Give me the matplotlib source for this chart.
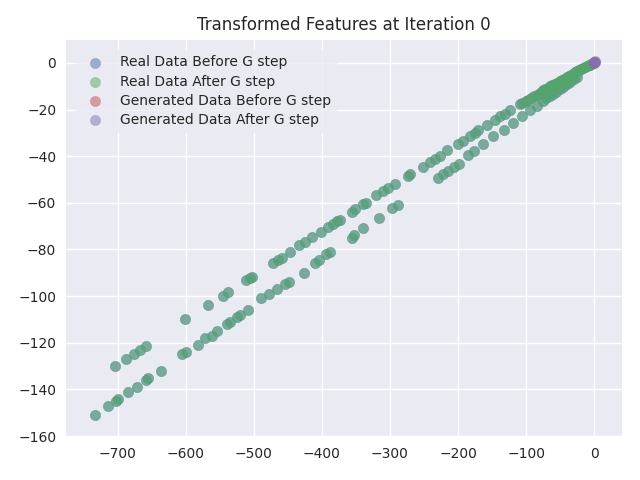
import matplotlib
matplotlib.use("Agg")
import matplotlib.pyplot as plt
import numpy as np

plt.style.use("seaborn-v0_8")
plt.rcParams["font.family"] = ["DejaVu Sans"]

title = "Transformed Features at Iteration 0"
labels = ["Real Data Before G step", "Real Data After G step",
          "Generated Data Before G step", "Generated Data After G step"]

# Real data (lower band)
real_lower_x = [-734, -714, -703, -700, -685, -672, -659, -655, -636, -605, -599, -582,
                -572, -562, -554, -539, -535, -525, -520, -508, -489, -477, -466, -454,
                -448, -427, -410, -404, -394, -388, -356, -353, -339, -316, -297, -288,
                -229, -222, -214, -206, -199, -185, -177, -163, -148, -133, -119, -106,
                -94, -84, -75, -70, -65, -60, -56, -50, -45, -40, -35, -30, -25]
real_lower_y = [-151, -147, -145, -144, -141, -139, -136, -135, -132, -125, -124, -121,
                -118, -117, -115, -112, -111, -109, -108, -106, -101, -99, -97, -95,
                -94, -90, -86, -84.5, -82, -81, -75, -74, -71, -66.5, -62.4, -61,
                -49.2, -47.8, -46.2, -44.8, -43.2, -39.5, -38, -35, -31.4, -28.6, -25.7, -22.9,
                -20.1, -18.6, -16.5, -15.2, -14.2, -13.2, -12.4, -11.4, -10.4, -9.2, -8.2, -7.0, -5.9]

# Real data (upper band)
real_upper_x = [-704, -688, -676, -667, -658, -601, -567, -545, -538, -511, -506, -503,
                -472, -464, -459, -447, -433, -425, -414, -402, -391, -383, -378, -374,
                -356, -351, -339, -335, -321, -310, -303, -292, -273, -270, -252, -241,
                -234, -227, -216, -200, -192, -182, -175, -170, -158, -146, -138, -131,
                -124, -109, -106, -100, -97, -92, -88, -84, -80, -77, -75, -72, -68, -65,
                -62, -58, -55, -52, -50, -47, -44, -40, -37, -34, -31, -28, -25, -22,
                -19, -16, -13, -10, -8, -6, -4, -2]
real_upper_y = [-130, -127, -125, -123, -121.3, -110, -104, -100, -98.3, -93.3, -92.3, -92,
                -85.8, -84.5, -83.5, -81.2, -78, -76.7, -74.8, -72.7, -70.5, -69, -68, -67.3,
                -64, -62.7, -60.6, -60, -56.8, -54.8, -53.7, -51.8, -48.5, -47.8, -44.5, -42.3,
                -41.2, -40.1, -37.5, -34.6, -33.3, -31.2, -30.2, -28.6, -26.5, -24.3, -22.9, -21.8,
                -20.3, -17.8, -17.2, -16.4, -15.8, -15.0, -14.3, -13.7, -12.9, -12.3, -11.8, -11.3,
                -10.6, -10.1, -9.6, -9.0, -8.5, -8.0, -7.7, -7.2, -6.8, -6.1, -5.6, -5.1, -4.6,
                -4.1, -3.6, -3.2, -2.7, -2.2, -1.8, -1.4, -1.1, -0.8, -0.5, -0.2]

real_x = real_lower_x + real_upper_x
real_y = real_lower_y + real_upper_y

gen_before_x = [0.0, 0.5, 1.0]
gen_before_y = [0.0, 0.3, 0.5]
gen_after_x = [0.0, 0.4, 0.8, 1.2]
gen_after_y = [0.0, 0.2, 0.4, 0.6]

xlim = (-776, 41)
ylim = (-160.4, 9.8)

fig, ax = plt.subplots(figsize=(6.4, 4.8), dpi=100)
fig.subplots_adjust(left=66 / 640, right=622 / 640, top=1 - 40 / 480, bottom=1 - 437 / 480)
ax.scatter(real_x, real_y, s=55, alpha=0.5, label=labels[0])
ax.scatter(real_x, real_y, s=55, alpha=0.5, label=labels[1])
ax.scatter(gen_before_x, gen_before_y, s=55, alpha=0.5, label=labels[2])
ax.scatter(gen_after_x, gen_after_y, s=55, alpha=0.5, label=labels[3])
ax.set_xlim(*xlim)
ax.set_ylim(*ylim)
ax.set_title(title, pad=7.5)
ax.legend(loc="upper left", frameon=True, facecolor="#EAEAF2", edgecolor="#EAEAF2",
          framealpha=0.8, bbox_to_anchor=(0.005, 0.993), labelspacing=0.38)
fig.savefig("out.png", dpi=100)
